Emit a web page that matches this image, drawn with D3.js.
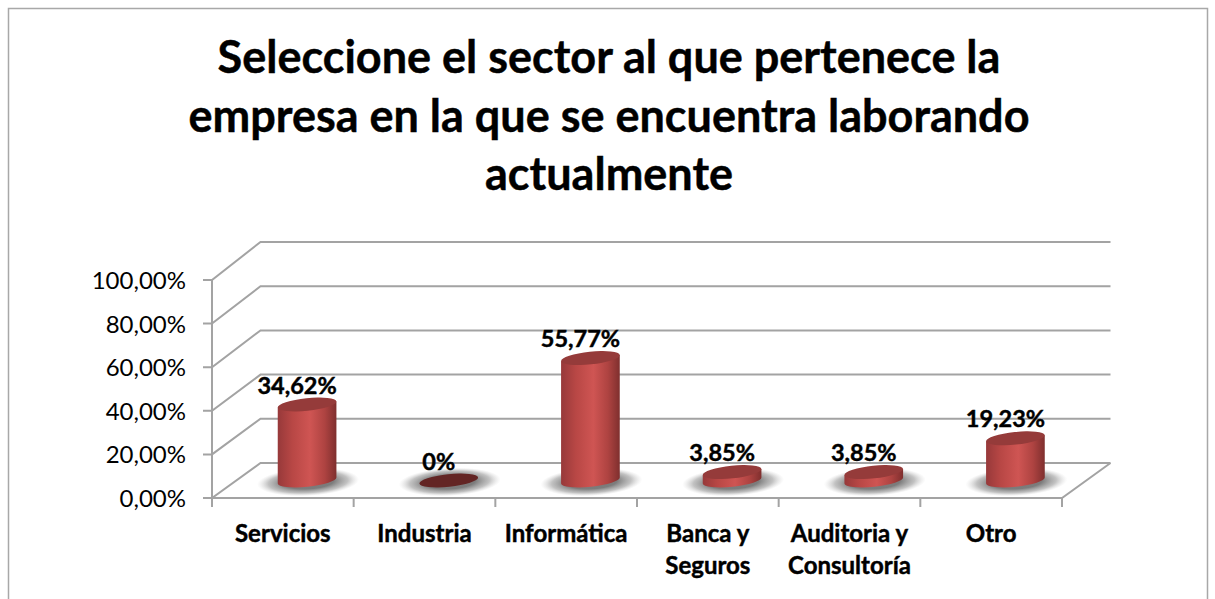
<!DOCTYPE html>
<html>
<head>
<meta charset="utf-8">
<script src="https://cdn.jsdelivr.net/npm/d3@7"></script>
<style>
html, body { margin: 0; padding: 0; background: #fff; }
svg { display: block; }
text { font-family: Lato, "Open Sans", sans-serif; fill: #000; }
.heavy { stroke: #000; stroke-width: 0.45px; }
</style>
</head>
<body>
<svg id="chart" width="1215" height="599"></svg>
<script>
var categories = [["Servicios"], ["Industria"], ["Informática"], ["Banca y", "Seguros"], ["Auditoria y", "Consultoría"], ["Otro"]];
var values = [34.62, 0, 55.77, 3.85, 3.85, 19.23];
var valueLabels = ["34,62%", "0%", "55,77%", "3,85%", "3,85%", "19,23%"];
var yTicks = [0, 20, 40, 60, 80, 100];
var yTickLabels = ["0,00%", "20,00%", "40,00%", "60,00%", "80,00%", "100,00%"];
var titleLines = ["Seleccione el sector al que pertenece la", "empresa en la que se encuentra laborando", "actualmente"];

var svg = d3.select("#chart");
var axisColor = "#a3a3a3";

// front edge of the floor and the value axis, then the same axis on the back wall
var x = d3.scaleBand().domain(d3.range(categories.length)).range([212, 1062]);
var y = d3.scaleLinear().domain([0, 100]).range([498, 280]);
var yBack = d3.scaleLinear().domain([0, 100]).range([463, 242]);
var depthX = 48.5;

// chart frame, cut off by the bottom of the picture
svg.append("path")
  .attr("d", "M8.5,599V8.5H1207.5V599")
  .attr("fill", "none")
  .attr("stroke", "#a8a8a8")
  .attr("stroke-width", 1.5);

// title
svg.append("g").selectAll("text")
  .data(titleLines)
  .enter().append("text")
  .attr("class", "heavy")
  .attr("x", 609)
  .attr("y", function(d, i) { return 73 + i * 58.5; })
  .attr("text-anchor", "middle")
  .attr("font-size", 45)
  .attr("font-weight", 700)
  .text(function(d) { return d; });

var defs = svg.append("defs");

var bodyGrad = defs.append("linearGradient").attr("id", "body");
[[0, "#97393a"], [0.25, "#b84745"], [0.55, "#cf5553"], [0.8, "#ae4341"], [1, "#7f2f2e"]].forEach(function(s) {
  bodyGrad.append("stop").attr("offset", s[0]).attr("stop-color", s[1]);
});

var shadowGrad = defs.append("radialGradient").attr("id", "shadow");
[[0, "#777", 1], [0.5, "#7c7c7c", 1], [0.78, "#a8a8a8", 0.7], [1, "#d0d0d0", 0]].forEach(function(s) {
  shadowGrad.append("stop").attr("offset", s[0]).attr("stop-color", s[1]).attr("stop-opacity", s[2]);
});

// back wall gridlines and left wall diagonals
var grid = svg.append("g")
  .attr("fill", "none")
  .attr("stroke", axisColor)
  .attr("stroke-width", 2);

grid.selectAll("path")
  .data(yTicks)
  .enter().append("path")
  .attr("d", function(d) {
    return "M203," + y(d) + "H212L" + (212 + depthX) + "," + yBack(d) + "H" + (1062 + depthX);
  });

// floor and axis lines
grid.append("path")
  .attr("d", "M212," + y(100) + "V507M212," + y(0) + "H1062L" + (1062 + depthX) + "," + yBack(0));

grid.selectAll("line.tick")
  .data(d3.range(categories.length + 1))
  .enter().append("line")
  .attr("class", "tick")
  .attr("x1", function(d) { return 212 + d * x.step(); })
  .attr("x2", function(d) { return 212 + d * x.step(); })
  .attr("y1", y(0))
  .attr("y2", 507);

// value axis labels
svg.append("g").selectAll("text")
  .data(yTicks)
  .enter().append("text")
  .attr("x", 186)
  .attr("y", function(d) { return y(d) + 9; })
  .attr("text-anchor", "end")
  .attr("font-size", 24)
  .text(function(d, i) { return yTickLabels[i]; });

// category labels
var catLabels = svg.append("g").selectAll("text")
  .data(categories)
  .enter().append("text")
  .attr("class", "heavy")
  .attr("text-anchor", "middle")
  .attr("font-size", 24)
  .attr("font-weight", 700);

catLabels.selectAll("tspan")
  .data(function(d, i) { return d.map(function(t) { return { t: t, i: i }; }); })
  .enter().append("tspan")
  .attr("x", function(d) { return x(d.i) + x.bandwidth() / 2; })
  .attr("y", function(d, j) { return 542 + j * 32; })
  .text(function(d) { return d.t; });

// cylinders
var rx = 29.5, ry = 6.3, tilt = -6;
var px = function(i) { return x(i) + x.bandwidth() / 2 + depthX / 2; };
var py = function(v) { return (y(v) + yBack(v)) / 2; };

function rimPoint(cx, cy, sign) {
  var a = tilt * Math.PI / 180;
  return [cx + sign * rx * Math.cos(a), cy + sign * rx * Math.sin(a)];
}

var bars = svg.append("g").selectAll("g")
  .data(values)
  .enter().append("g");

bars.append("ellipse")
  .attr("cx", function(d, i) { return px(i) + 1; })
  .attr("cy", py(0) + 1.5)
  .attr("rx", 51)
  .attr("ry", 14)
  .attr("fill", "url(#shadow)")
  .attr("transform", function(d, i) { return "rotate(-3 " + px(i) + " " + (py(0) + 1.5) + ")"; });

bars.each(function(d, i) {
  if (d <= 0) return;
  var l0 = rimPoint(px(i), py(0), -1), r0 = rimPoint(px(i), py(0), 1);
  var l1 = rimPoint(px(i), py(d), -1), r1 = rimPoint(px(i), py(d), 1);
  d3.select(this).append("path")
    .attr("fill", "url(#body)")
    .attr("d", "M" + l1 + "L" + l0 + "A" + rx + "," + ry + " " + tilt + " 0 0 " + r0 + "L" + r1 + "Z");
});

bars.append("ellipse")
  .attr("cx", function(d, i) { return px(i); })
  .attr("cy", function(d) { return py(d); })
  .attr("rx", rx)
  .attr("ry", ry)
  .attr("fill", function(d) { return d > 0 ? "#953b3a" : "#632524"; })
  .attr("transform", function(d, i) { return "rotate(" + tilt + " " + px(i) + " " + py(d) + ")"; });

// value labels
svg.append("g").selectAll("text")
  .data(values)
  .enter().append("text")
  .attr("class", "heavy")
  .attr("x", function(d, i) { return px(i) - 10; })
  .attr("y", function(d) { return py(d) - 11; })
  .attr("text-anchor", "middle")
  .attr("font-size", 23.5)
  .attr("font-weight", 700)
  .text(function(d, i) { return valueLabels[i]; });
</script>
</body>
</html>
